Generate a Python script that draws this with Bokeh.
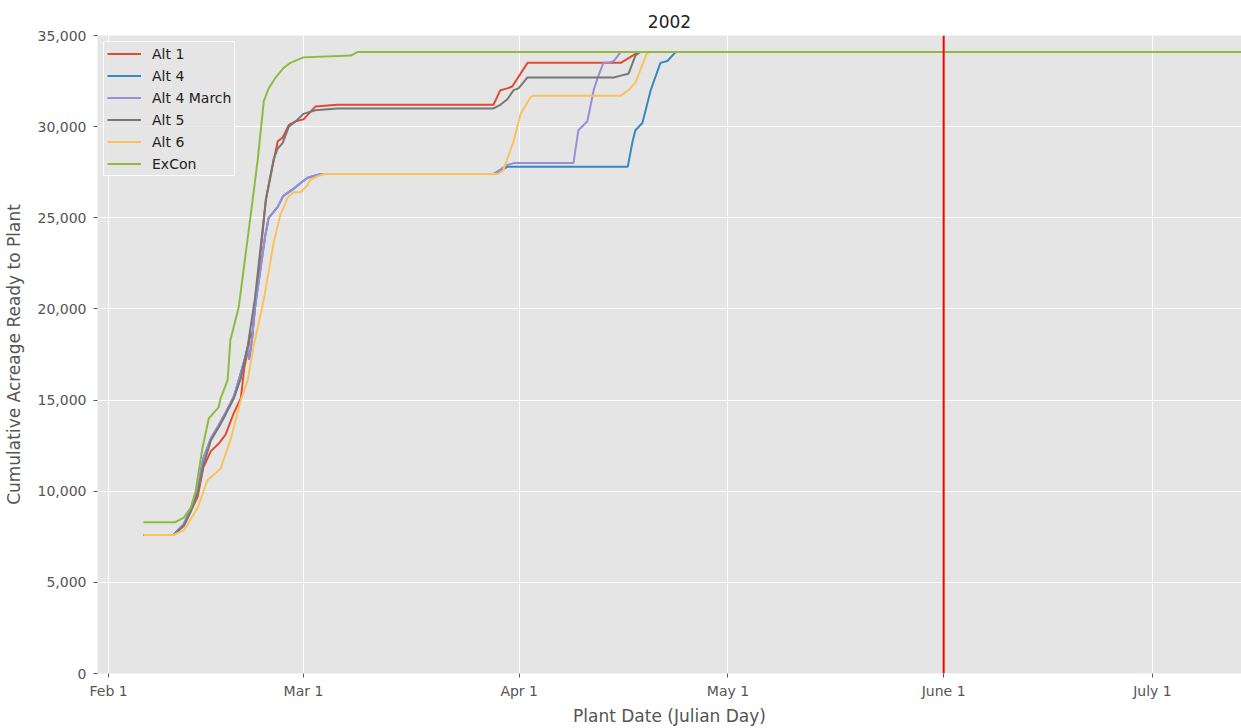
from bokeh.plotting import figure
from bokeh.models import FixedTicker, NumeralTickFormatter, Span, Legend, LegendItem, Range1d
from bokeh.embed import file_html
from bokeh.resources import INLINE

# ---- data (x = Julian day, y = cumulative acreage) ----
alt1_day = [37, 41.3, 42.8, 43.8, 44.8, 45.6, 46.7, 47.8, 48.8, 50.0, 51.0, 51.5, 52.0, 52.4, 52.6,
            54.6, 55.7, 56.3, 57.0, 57.9, 58.9, 60.0, 61.7, 64.9, 87.3, 88.3, 89.3, 90.0, 92.2,
            105.6, 107.3, 108.2, 127.5]
alt1_val = [7600, 7600, 8100, 8900, 9700, 11300, 12200, 12600, 13100, 14300, 15100, 16800, 17700, 18700, 18400,
            26000, 28100, 29200, 29400, 30100, 30300, 30400, 31100, 31200, 31200, 32000, 32100, 32200, 33500,
            33500, 33900, 34100, 34100]

alt4_day = [37, 41.3, 42.8, 43.8, 44.8, 45.6, 46.7, 47.8, 48.8, 50.0, 51.0, 51.6, 52.0, 52.2, 52.6,
            53.0, 54.5, 55.0, 56.3, 57.1, 58.6, 59.9, 60.6, 62.5, 87.3, 89.3, 106.6, 107.3, 107.7,
            108.7, 109.9, 111.3, 112.3, 113.5, 127.5]
alt4_val = [7600, 7600, 8200, 9000, 10200, 11800, 12900, 13600, 14300, 15200, 16500, 17300, 17900, 17200, 18300,
            20000, 24000, 25000, 25600, 26200, 26600, 27000, 27200, 27400, 27400, 27800, 27800, 29200, 29800,
            30200, 32000, 33500, 33600, 34100, 34100]

alt4m_day = [37, 41.3, 42.8, 43.8, 44.8, 45.6, 46.7, 47.8, 48.8, 50.0, 51.0, 51.6, 52.0, 52.2, 52.6,
             53.0, 54.5, 55.0, 56.3, 57.1, 58.6, 59.9, 60.6, 62.5, 87.3, 89.3, 90.2, 98.8, 99.5,
             100.8, 101.7, 102.3, 103.1, 103.8, 104.6, 105.6, 127.5]
alt4m_val = [7600, 7600, 8200, 9000, 10200, 11800, 12900, 13600, 14300, 15200, 16500, 17300, 17900, 17200, 18300,
             20000, 24000, 25000, 25600, 26200, 26600, 27000, 27200, 27400, 27400, 27900, 28000, 28000, 29800,
             30300, 32000, 32700, 33500, 33500, 33600, 34100, 34100]

alt5_day = [37, 41.3, 42.8, 43.8, 44.8, 45.6, 46.7, 47.8, 48.8, 50.0, 51.0, 52.0, 53.0, 54.6, 55.7,
            56.3, 57.0, 57.9, 58.9, 60.0, 61.7, 64.9, 87.3, 88.3, 89.3, 90.2, 90.9, 92.2, 104.6,
            105.6, 106.7, 107.7, 108.4, 127.5]
alt5_val = [7600, 7600, 8100, 8900, 9900, 11400, 12800, 13500, 14200, 15100, 16200, 18000, 20500, 26000, 28200,
            28800, 29100, 30000, 30300, 30700, 30900, 31000, 31000, 31200, 31500, 32000, 32100, 32700, 32700,
            32800, 32900, 33900, 34100, 34100]

alt6_day = [37, 41.3, 42.8, 44.8, 46.2, 48.1, 49.5, 51.0, 52.0, 52.8, 54.3, 55.7, 56.7, 57.1, 57.7,
            58.6, 59.6, 60.6, 61.0, 62.2, 63.0, 87.9, 88.7, 90.2, 91.2, 92.6, 93.1, 105.6, 106.7,
            107.7, 108.4, 109.2, 109.6, 127.5]
alt6_val = [7600, 7600, 7850, 9100, 10600, 11250, 12800, 15000, 16100, 17900, 20500, 23600, 25200, 25500, 26100,
            26400, 26400, 26800, 27100, 27300, 27400, 27400, 27600, 29200, 30700, 31600, 31700, 31700, 32000,
            32400, 33100, 33900, 34100, 34100]

excon_day = [37, 41.6, 42.8, 43.8, 44.5, 45.5, 46.4, 47.8, 48.1, 49.1, 49.5, 50.7, 52.7, 53.4, 54.3,
             55.0, 56.0, 57.1, 58.1, 60.0, 66.8, 67.8, 200]
excon_val = [8300, 8300, 8550, 9100, 10000, 12400, 14000, 14600, 15100, 16100, 18300, 20100, 26000, 28100, 31400,
             32100, 32700, 33200, 33500, 33800, 33900, 34100, 34100]

series_names = ["Alt 1", "Alt 4", "Alt 4 March", "Alt 5", "Alt 6", "ExCon"]
series_days = [alt1_day, alt4_day, alt4m_day, alt5_day, alt6_day, excon_day]
series_vals = [alt1_val, alt4_val, alt4m_val, alt5_val, alt6_val, excon_val]
colors = ["#E24A33", "#348ABD", "#988ED5", "#777777", "#FBC15E", "#8EBA42"]

tick_days = [32, 60, 91, 121, 152, 182]
tick_labels = ["Feb 1", "Mar 1", "Apr 1", "May 1", "June 1", "July 1"]
y_ticks = [0, 5000, 10000, 15000, 20000, 25000, 30000, 35000]
marker_day = 152

FONT = "DejaVu Sans"
TXT = "#555555"

p = figure(width=1241, height=728, output_backend="svg", toolbar_location=None,
           x_range=Range1d(30.4, 194.8), y_range=Range1d(0, 35000),
           min_border_left=97, min_border_right=0, min_border_top=35, min_border_bottom=55,
           background_fill_color="#E5E5E5", border_fill_color="white", outline_line_color=None,
           title="2002")

p.title.align = "center"
p.title.text_font = FONT
p.title.text_font_size = "17px"
p.title.text_font_style = "normal"
p.title.text_color = "#222222"
p.title.standoff = 16

for ax in (p.xaxis[0], p.yaxis[0]):
    ax.axis_line_color = None
    ax.major_tick_line_color = TXT
    ax.major_tick_out = 4
    ax.major_tick_in = 0
    ax.minor_tick_line_color = None
    ax.major_label_text_font = FONT
    ax.major_label_text_font_size = "14px"
    ax.major_label_text_color = TXT
    ax.axis_label_text_font = FONT
    ax.axis_label_text_font_size = "17px"
    ax.axis_label_text_font_style = "normal"
    ax.axis_label_text_color = TXT

p.xaxis.ticker = FixedTicker(ticks=tick_days)
p.xaxis.major_label_overrides = {d: l for d, l in zip(tick_days, tick_labels)}
p.xaxis.axis_label = "Plant Date (Julian Day)"
p.xaxis.major_label_standoff = 5
p.xaxis.axis_label_standoff = 4

p.yaxis.ticker = FixedTicker(ticks=y_ticks)
p.yaxis.formatter = NumeralTickFormatter(format="0,0")
p.yaxis.axis_label = "Cumulative Acreage Ready to Plant"
p.yaxis.major_label_standoff = 7
p.yaxis.axis_label_standoff = 11

for g in (p.xgrid[0], p.ygrid[0]):
    g.grid_line_color = "white"
    g.grid_line_width = 1

items = []
for name, xs, ys, c in zip(series_names, series_days, series_vals, colors):
    r = p.line(xs, ys, line_color=c, line_width=2)
    items.append(LegendItem(label=name, renderers=[r]))

p.add_layout(Span(location=marker_day, dimension="height", line_color="#FF0000", line_width=2))

legend = Legend(items=items, location="top_left", margin=6, padding=3,
                glyph_width=34, glyph_height=17, label_height=17, spacing=5, label_standoff=11,
                label_text_font=FONT, label_text_font_size="14px", label_text_color="#222222",
                background_fill_color="#E5E5E5", background_fill_alpha=0.8,
                border_line_color="white", border_line_alpha=0.8, border_line_width=1)
p.add_layout(legend)

open("out.html", "w").write(file_html(p, INLINE))
